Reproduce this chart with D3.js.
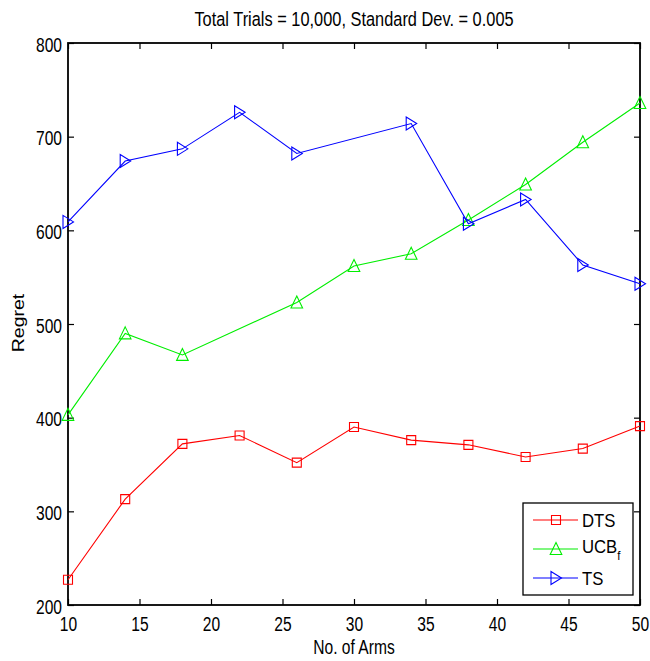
<!DOCTYPE html>
<html>
<head>
<meta charset="utf-8">
<script src="https://cdn.jsdelivr.net/npm/d3@7"></script>
<style>
  html, body { margin: 0; padding: 0; background: #fff; }
  svg { display: block; font-family: "Liberation Sans", Arial, sans-serif; }
</style>
</head>
<body>
<svg id="chart" width="650" height="661"></svg>
<script>
// Number of arms (x values)
const arms = [10, 14, 18, 22, 26, 30, 34, 38, 42, 46, 50];
// Regret per algorithm (null = not measured at that arm count)
const dtsRegret = [227, 313, 372, 381, 352, 390, 376, 371, 358, 367, 391];
const ucbRegret = [403, 490, 467, null, 523, 562, 575, 611, 649, 694, 736];
const tsRegret  = [609, 674, 687, 726, 682, null, 714, 607, 633, 563, 543];

const xTicks = [10, 15, 20, 25, 30, 35, 40, 45, 50];
const yTicks = [200, 300, 400, 500, 600, 700, 800];

const titleText = "Total Trials = 10,000, Standard Dev. = 0.005";
const xLabel = "No. of Arms";
const yLabel = "Regret";

const svg = d3.select("#chart");
const plotL = 68, plotR = 640, plotT = 43, plotB = 605;
const SX = 0.8;     // horizontal squeeze of the lettering
const FS = 19.5;

const x = d3.scaleLinear().domain([10, 50]).range([plotL, plotR]);
const y = d3.scaleLinear().domain([200, 800]).range([plotB, plotT]);

function label(g, tx, ty, str, anchor, size, sx) {
  return g.append("text")
    .attr("transform", `translate(${tx},${ty}) scale(${sx},1)`)
    .attr("text-anchor", anchor)
    .attr("font-size", size)
    .attr("fill", "#000")
    .text(str);
}

// Axes with inward ticks on all four sides
const tick = 6;
const gx = svg.append("g").attr("transform", `translate(0,${plotB})`)
  .call(d3.axisBottom(x).tickValues(xTicks).tickSizeInner(-tick).tickSizeOuter(0).tickPadding(0).tickFormat(d3.format("d")));
gx.selectAll("text").attr("y", null).attr("dy", null)
  .attr("transform", "translate(0,26) scale(" + SX + ",1)")
  .attr("font-size", FS).attr("font-family", null).attr("fill", "#000");

const gy = svg.append("g").attr("transform", `translate(${plotL},0)`)
  .call(d3.axisLeft(y).tickValues(yTicks).tickSizeInner(-tick).tickSizeOuter(0).tickPadding(0).tickFormat(d3.format("d")));
gy.selectAll("text").attr("x", null).attr("dy", "0.36em")
  .attr("transform", "translate(-6,1) scale(" + SX + ",1)")
  .attr("font-size", FS).attr("font-family", null).attr("fill", "#000");

svg.append("g").attr("transform", `translate(0,${plotT})`)
  .call(d3.axisTop(x).tickValues(xTicks).tickSizeInner(-tick).tickSizeOuter(0).tickFormat(""));
svg.append("g").attr("transform", `translate(${plotR},0)`)
  .call(d3.axisRight(y).tickValues(yTicks).tickSizeInner(-tick).tickSizeOuter(0).tickFormat(""));

svg.selectAll(".domain").remove();
svg.selectAll(".tick line").attr("stroke", "#000").attr("stroke-width", 1.2);

// Plot frame
svg.append("rect")
  .attr("x", plotL).attr("y", plotT)
  .attr("width", plotR - plotL).attr("height", plotB - plotT)
  .attr("fill", "none").attr("stroke", "#000").attr("stroke-width", 1.8);

// Marker shapes
const markers = {
  square: "M-4.5,-4.5H4.5V4.5H-4.5Z",
  up: "M0,-6.5L5.8,5.5L-5.8,5.5Z",
  right: "M5.5,0L-5,-6.5L-5,6.5Z"
};

const series = [
  { name: "DTS", values: dtsRegret, color: "#ff0000", marker: "square" },
  { name: "UCB", sub: "f", values: ucbRegret, color: "#00ee00", marker: "up" },
  { name: "TS", values: tsRegret, color: "#0000ff", marker: "right" }
];

const line = d3.line().x(d => x(d.x)).y(d => y(d.y));

series.forEach(s => {
  const pts = arms.map((a, i) => ({ x: a, y: s.values[i] })).filter(p => p.y != null);
  const g = svg.append("g");
  g.append("path").datum(pts)
    .attr("d", line)
    .attr("fill", "none").attr("stroke", s.color).attr("stroke-width", 1.1);
  g.selectAll("path.mk").data(pts).enter().append("path")
    .attr("class", "mk")
    .attr("d", markers[s.marker])
    .attr("transform", d => `translate(${x(d.x)},${y(d.y)})`)
    .attr("fill", "none").attr("stroke", s.color).attr("stroke-width", 1.1);
});

// Legend
const lg = svg.append("g");
lg.append("rect").attr("x", 523).attr("y", 503).attr("width", 110).attr("height", 92)
  .attr("fill", "#fff").attr("stroke", "#000").attr("stroke-width", 1.3);
const rowY = [520, 549, 578];
series.forEach((s, i) => {
  const yy = rowY[i];
  lg.append("line").attr("x1", 533).attr("x2", 578).attr("y1", yy).attr("y2", yy)
    .attr("stroke", s.color).attr("stroke-width", 1.1);
  lg.append("path").attr("d", markers[s.marker])
    .attr("transform", `translate(556,${yy})`)
    .attr("fill", "none").attr("stroke", s.color).attr("stroke-width", 1.1);
  const t = label(lg, 582, yy + (s.sub ? 4 : 7), s.name, "start", 19, 0.88);
  if (s.sub) {
    t.append("tspan").attr("font-size", 13).attr("dy", 7).text(s.sub);
  }
});

// Title and axis labels
label(svg, 354, 26, titleText, "middle", FS, 0.84);
label(svg, 354, 654, xLabel, "middle", FS, SX);
svg.append("text")
  .attr("transform", `translate(24,323) scale(${SX},1) rotate(-90)`)
  .attr("text-anchor", "middle").attr("font-size", FS).attr("fill", "#000")
  .text(yLabel);
</script>
</body>
</html>
